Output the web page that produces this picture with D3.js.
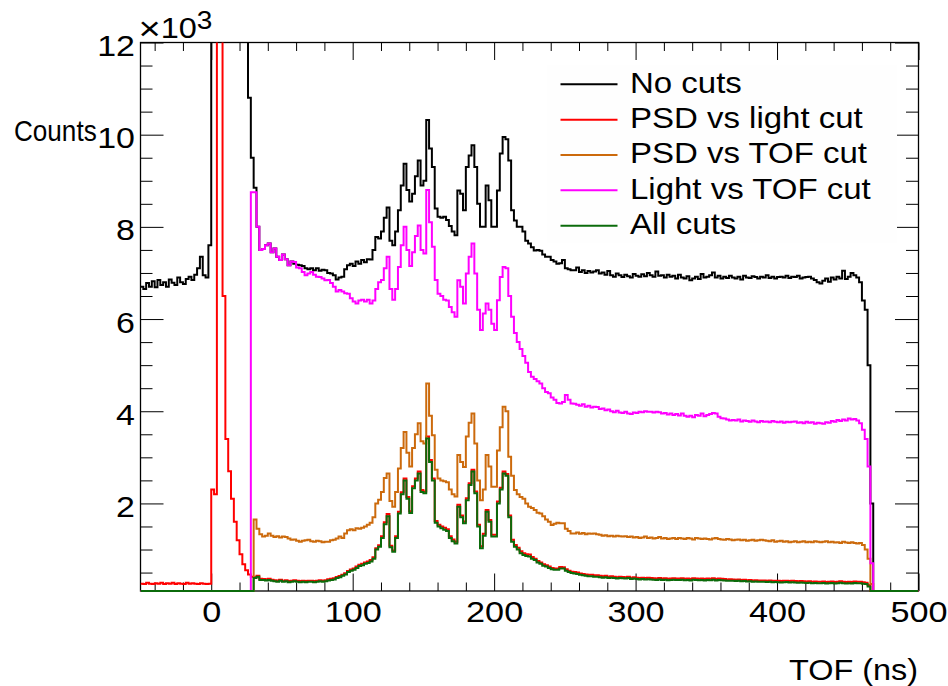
<!DOCTYPE html>
<html><head><meta charset="utf-8">
<script src="https://cdn.jsdelivr.net/npm/d3@7"></script>
<style>body{margin:0;background:#fff}</style>
</head><body>
<svg id="c" width="948" height="686"></svg>
<script>
// ---------------- DATA ----------------
// 2 ns bins from -50 ns to 500 ns (275 bins)
const binStart = -50, binWidth = 2, binCount = 275;
const seriesNames = ["No cuts", "PSD vs light cut", "PSD vs TOF cut", "Light vs TOF cut", "All cuts"];

const noCuts = [
6700,6650,6780,6700,6820,6690,6850,6740,6800,6700,
6860,6790,6740,6900,6800,6760,6870,6920,6850,6960,
7100,7350,6950,6900,7600,30000,30000,30000,30000,30000,
30000,30000,30000,30000,30000,30000,30000,13000,10800,9500,
8850,8000,7500,7520,7600,7640,7450,7530,7350,7280,
7400,7300,7170,7250,7200,7180,7170,7150,7100,7080,
7100,7060,7100,7050,7070,7060,7000,6990,6950,6860,
6900,6920,7080,7170,7200,7150,7250,7200,7280,7230,
7300,7290,7500,7780,7750,7900,8200,8420,7700,7600,
7900,8360,8900,9370,8800,8550,8720,9100,9440,8900,
9000,10320,9700,9300,8400,8220,8200,8220,8150,8020,
7900,7820,8790,8720,8360,9300,9550,9770,9300,8500,
8000,8000,8900,8580,8000,8000,8790,9590,9950,9900,
9440,8360,8140,8000,8000,7900,7700,7640,7560,7490,
7500,7480,7400,7350,7350,7280,7250,7200,7210,7280,
7100,7080,7060,7060,7120,7020,7060,7000,7040,7010,
7030,7060,6990,7010,6960,7040,6950,6920,6990,6950,
6910,6960,6930,6900,6980,6940,6920,6970,6930,7000,
6950,6920,7030,6940,6950,6900,6960,6920,6940,6880,
6960,6900,6880,6930,6840,6880,6920,6870,6980,6900,
6920,6950,7010,6900,6940,6880,6920,6890,6940,6900,
6880,6920,6860,6940,6900,6890,6930,6910,6880,6920,
6900,6950,6890,6920,6880,6910,6920,6900,6940,6890,
6920,6910,6940,6880,6900,6910,6920,6880,6850,6800,
6770,6830,6880,6810,6900,6860,6920,6880,7050,6870,
6920,7000,6950,6900,6800,6400,6200,5000,2000,0,
0,0,0,0,0,0,0,0,0,0,
0,0,0,0,0
];

const psdVsLight = [
260,250,280,260,250,270,260,280,250,270,
260,280,250,270,260,250,280,260,270,260,
250,270,260,250,260,2300,2200,30000,30000,6500,
3400,2700,2100,1600,1200,900,680,550,460,410,
400,430,365,360,355,365,345,335,330,345,
325,335,315,325,335,325,315,325,315,325,
325,315,325,335,325,335,355,365,375,405,
425,455,485,535,565,590,630,670,690,720,
740,770,830,1030,1090,1290,1590,1770,1080,980,
1290,1820,2240,2540,2140,1830,2370,2540,2690,2290,
2260,3450,2940,2540,1620,1540,1500,1470,1440,1290,
1220,1170,1970,1740,1610,2110,2440,2730,2260,1540,
1070,1340,1860,1640,1320,1320,2040,2340,2690,2640,
1740,1210,1100,1040,960,920,900,890,840,800,
750,720,680,660,630,600,590,590,620,615,
570,540,520,510,500,480,470,460,450,450,
440,440,430,420,430,410,420,410,400,410,
405,400,410,390,400,390,380,390,380,385,
380,375,370,380,370,375,365,370,375,370,
370,375,365,370,360,375,370,365,370,360,
370,365,375,360,370,365,360,350,355,350,
345,350,340,345,335,340,330,335,330,330,
330,325,330,320,325,320,315,320,325,315,
320,315,310,315,310,305,310,300,305,300,
300,305,295,300,305,295,300,310,300,295,
300,295,305,300,300,290,280,230,0,0,
0,0,0,0,0,0,0,0,0,0,
0,0,0,0,0
];

const psdVsTof = [
0,0,0,0,0,0,0,0,0,0,
0,0,0,0,0,0,0,0,0,0,
0,0,0,0,0,0,0,0,0,0,
0,0,0,0,0,0,0,0,0,0,
1650,1450,1330,1280,1300,1350,1300,1270,1290,1260,
1280,1270,1240,1210,1220,1190,1170,1190,1200,1210,
1180,1170,1190,1180,1160,1170,1170,1200,1210,1240,
1280,1250,1350,1420,1440,1420,1460,1450,1470,1500,
1540,1580,1700,2000,2080,2250,2550,2650,2050,1930,
2250,2760,3200,3550,3100,2800,3200,3500,3740,3350,
3300,4600,3900,3480,2730,2540,2500,2480,2460,2300,
2200,2150,3050,2900,2790,3450,3750,3950,3300,2500,
2070,2300,3050,2800,2360,2360,3150,3650,4100,4000,
3010,2600,2290,2200,2140,2100,2000,1930,1900,1860,
1800,1780,1720,1650,1600,1530,1560,1580,1570,1570,
1450,1400,1350,1350,1370,1340,1360,1330,1350,1340,
1350,1330,1320,1300,1310,1290,1300,1280,1300,1290,
1280,1290,1270,1280,1260,1270,1250,1260,1280,1250,
1260,1240,1250,1270,1240,1250,1230,1240,1250,1230,
1250,1240,1230,1250,1240,1220,1250,1240,1230,1240,
1230,1220,1240,1250,1230,1220,1210,1230,1220,1200,
1210,1220,1200,1210,1190,1200,1210,1190,1200,1210,
1200,1190,1180,1200,1170,1180,1190,1170,1180,1160,
1170,1180,1160,1170,1180,1160,1170,1160,1180,1170,
1160,1170,1180,1160,1170,1150,1160,1140,1170,1150,
1140,1160,1140,1130,1140,1100,1000,800,250,0,
0,0,0,0,0,0,0,0,0,0,
0,0,0,0,0
];

const lightVsTof = [
0,0,0,0,0,0,0,0,0,0,
0,0,0,0,0,0,0,0,0,0,
0,0,0,0,0,0,0,0,0,0,
0,0,0,0,0,0,0,0,0,8750,
8750,8000,7500,7520,7600,7640,7450,7530,7350,7280,
7400,7300,7170,7250,7240,7120,7100,7020,6950,6990,
7020,6960,6920,6910,6880,6840,6850,6780,6700,6600,
6630,6600,6560,6550,6450,6380,6340,6400,6420,6380,
6420,6340,6400,6650,6800,6850,7100,7350,6650,6420,
6650,7130,7600,8000,7500,7150,7450,7800,8030,7500,
7420,8800,8100,7570,6850,6550,6500,6420,6400,6260,
6150,6050,6840,6700,6340,6990,7350,7640,6990,6200,
5760,6120,6340,6200,5900,5760,6410,6910,7130,7100,
6500,6050,5700,5500,5350,5200,5050,4850,4750,4700,
4650,4600,4500,4420,4390,4300,4250,4180,4170,4200,
4350,4250,4170,4160,4140,4120,4150,4100,4120,4080,
4100,4090,4050,4060,4020,4040,4000,3980,4010,3970,
3960,3990,3950,3940,3970,3960,3990,3980,4000,3990,
3990,3970,3990,3980,3950,3960,3930,3950,3920,3940,
3910,3950,3900,3880,3900,3870,3920,3900,3950,3890,
3920,3940,3960,3950,3880,3850,3840,3820,3800,3810,
3800,3820,3780,3800,3790,3770,3800,3780,3760,3790,
3770,3780,3760,3790,3770,3760,3780,3750,3770,3760,
3770,3780,3750,3760,3740,3770,3750,3760,3730,3750,
3740,3730,3760,3750,3790,3770,3810,3790,3820,3800,
3840,3820,3830,3800,3740,3600,3400,2800,700,0,
0,0,0,0,0,0,0,0,0,0,
0,0,0,0,0
];

const allCuts = [
0,0,0,0,0,0,0,0,0,0,
0,0,0,0,0,0,0,0,0,0,
0,0,0,0,0,0,0,0,0,0,
0,0,0,0,0,0,0,0,0,0,
380,410,340,340,330,340,320,310,300,320,
300,310,290,300,310,300,290,300,290,300,
300,290,300,310,300,310,330,340,350,380,
400,430,460,510,540,560,600,640,660,690,
710,740,800,1000,1060,1250,1550,1720,1050,950,
1250,1780,2200,2500,2100,1790,2330,2500,2650,2250,
2220,3410,2900,2500,1580,1500,1460,1430,1400,1250,
1180,1130,1930,1700,1570,2070,2400,2690,2220,1500,
1030,1300,1820,1600,1280,1280,2000,2300,2650,2600,
1700,1170,1060,1000,920,880,860,850,800,770,
720,690,650,630,600,570,560,560,590,590,
540,510,490,480,470,450,440,430,420,420,
410,410,400,390,400,380,390,380,370,380,
375,370,380,360,370,360,350,360,350,355,
350,345,340,350,340,345,335,340,345,340,
340,345,335,340,330,345,340,335,340,330,
340,335,345,330,340,335,330,320,325,320,
315,320,310,315,305,310,300,305,300,300,
300,295,300,290,295,290,285,290,295,285,
290,285,280,285,280,275,280,270,275,270,
270,275,265,270,275,265,270,280,270,265,
270,265,275,270,270,260,250,200,0,0,
0,0,0,0,0,0,0,0,0,0,
0,0,0,0,0
];

const xDomain = [-50, 500];
const yDomain = [100, 12000];
const xMajorTicks = [0, 100, 200, 300, 400, 500];
const xTickLabels = ["0", "100", "200", "300", "400", "500"];
const yMajorTicks = [2000, 4000, 6000, 8000, 10000, 12000];
const yTickLabels = ["2", "4", "6", "8", "10", "12"];

// ---------------- STYLE / LAYOUT ----------------
const colors = ["#000000", "#ff0000", "#cc6a0c", "#ff00ff", "#0b6b0b"];
const frame = {l: 140.5, r: 918.5, t: 42.5, b: 591};
const FONT = "'Liberation Sans', Arial, Helvetica, sans-serif";

const svg = d3.select("#c");
const x = d3.scaleLinear().domain(xDomain).range([frame.l, frame.r]);
const y = d3.scaleLinear().domain(yDomain).range([frame.b, frame.t]);

const edges = d3.range(binCount + 1).map(i => binStart + i * binWidth);
const xMinor = d3.range(-40, 501, 20).filter(v => v % 100 !== 0);
const yMinor = d3.range(500, 12001, 500).filter(v => v % 2000 !== 0);

// frame
svg.append("rect").attr("x", frame.l).attr("y", frame.t)
  .attr("width", frame.r - frame.l).attr("height", frame.b - frame.t)
  .attr("fill", "none").attr("stroke", "#000").attr("stroke-width", 1.3);

function styleAxis(g) {
  g.select(".domain").remove();
  g.selectAll(".tick line").attr("stroke", "#000").attr("stroke-width", 1);
  g.attr("font-family", FONT);
}

// bottom axis
const gxB = svg.append("g").attr("transform", `translate(0,${frame.b})`)
  .call(d3.axisBottom(x).tickValues(xMajorTicks).tickFormat((d, i) => xTickLabels[i]).tickSize(-17.5).tickPadding(10.5));
styleAxis(gxB);
gxB.selectAll("text").attr("font-size", 29).attr("fill", "#000").attr("transform", "scale(1.18,1)");
svg.append("g").attr("transform", `translate(0,${frame.b})`)
  .call(d3.axisBottom(x).tickValues(xMinor).tickFormat("").tickSize(-8.5)).call(styleAxis);
// top axis
svg.append("g").attr("transform", `translate(0,${frame.t})`)
  .call(d3.axisTop(x).tickValues(xMajorTicks).tickFormat("").tickSize(-17.5)).call(styleAxis);
svg.append("g").attr("transform", `translate(0,${frame.t})`)
  .call(d3.axisTop(x).tickValues(xMinor).tickFormat("").tickSize(-8.5)).call(styleAxis);
// left axis
const gyL = svg.append("g").attr("transform", `translate(${frame.l},0)`)
  .call(d3.axisLeft(y).tickValues(yMajorTicks).tickFormat((d, i) => yTickLabels[i]).tickSize(-23).tickPadding(4.8));
styleAxis(gyL);
gyL.selectAll("text").attr("font-size", 29).attr("fill", "#000").attr("dy", "0.45em").attr("transform", "scale(1.17,1)");
svg.append("g").attr("transform", `translate(${frame.l},0)`)
  .call(d3.axisLeft(y).tickValues(yMinor).tickFormat("").tickSize(-12)).call(styleAxis);
// right axis
svg.append("g").attr("transform", `translate(${frame.r},0)`)
  .call(d3.axisRight(y).tickValues(yMajorTicks).tickFormat("").tickSize(-23.5)).call(styleAxis);
svg.append("g").attr("transform", `translate(${frame.r},0)`)
  .call(d3.axisRight(y).tickValues(yMinor).tickFormat("").tickSize(-12.5)).call(styleAxis);

// clip
svg.append("clipPath").attr("id", "plotclip").append("rect")
  .attr("x", frame.l).attr("y", frame.t).attr("width", frame.r - frame.l).attr("height", frame.b - frame.t + 2);

const yMin = yDomain[0];
const line = d3.line()
  .x(d => x(d[0]))
  .y(d => y(Math.max(d[1], yMin)))
  .curve(d3.curveStepAfter);

const allSeries = [noCuts, psdVsLight, psdVsTof, lightVsTof, allCuts];
const gPlot = svg.append("g").attr("clip-path", "url(#plotclip)");
allSeries.forEach((vals, k) => {
  const pts = vals.map((v, i) => [edges[i], v]);
  pts.push([edges[vals.length], vals[vals.length - 1]]);
  gPlot.append("path").attr("d", line(pts)).attr("fill", "none")
    .attr("stroke", colors[k]).attr("stroke-width", 2).attr("stroke-linejoin", "miter");
});

// text helper
function txt(px, py, s, size, anchor, sx) {
  return svg.append("text").attr("transform", `translate(${px},${py}) scale(${sx},1)`)
    .attr("text-anchor", anchor).attr("font-family", FONT).attr("font-size", size)
    .attr("fill", "#000").text(s);
}

// exponent label (x10^3) as a single text with tspans
const expo = svg.append("text").attr("transform", "translate(138.5,38) scale(1.12,1)")
  .attr("font-family", FONT).attr("fill", "#000");
expo.append("tspan").attr("font-size", 34).attr("dy", 2).text("\u00d7");
expo.append("tspan").attr("font-size", 29).attr("dy", -2).text("10");
expo.append("tspan").attr("font-size", 25).attr("dy", -9).text("3");

// axis titles
txt(918, 680, "TOF (ns)", 30, "end", 1.08);
txt(14, 141, "Counts", 30, "start", 0.87);

// legend
const leg = {x: 547, y: 65, w: 350, h: 178, row0: 84.3, dy: 35.35};
svg.append("rect").attr("x", leg.x).attr("y", leg.y).attr("width", leg.w).attr("height", leg.h)
  .attr("fill", "#fefefe").attr("stroke", "none");
seriesNames.forEach((name, k) => {
  const ly = leg.row0 + k * leg.dy;
  svg.append("line").attr("x1", 560.5).attr("x2", 617.5).attr("y1", ly).attr("y2", ly)
    .attr("stroke", colors[k]).attr("stroke-width", 2);
  txt(630, ly + 8.2, name, 30, "start", 1.1);
});
</script>
</body></html>
